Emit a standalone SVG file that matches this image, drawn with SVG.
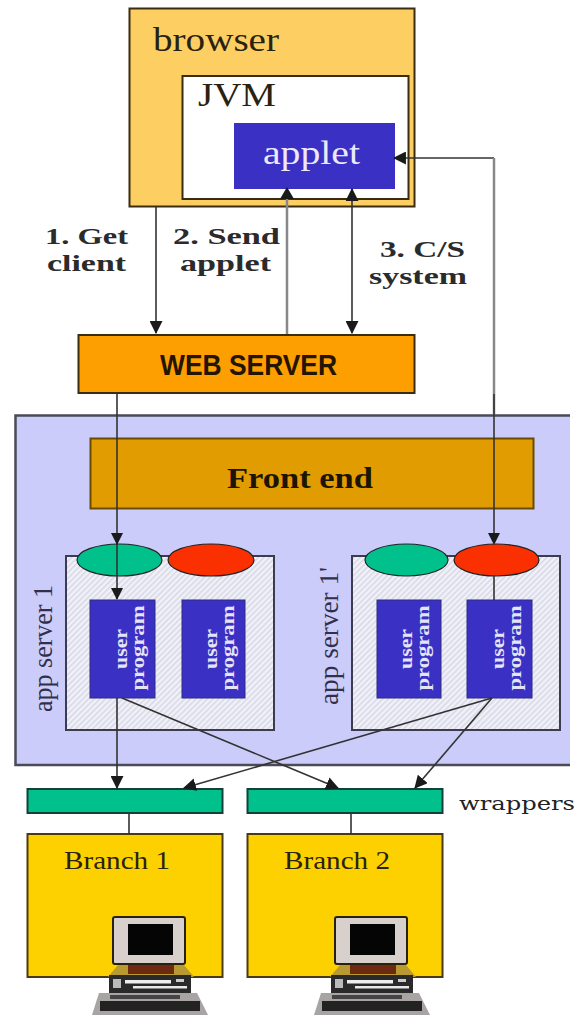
<svg xmlns="http://www.w3.org/2000/svg" width="577" height="1015" viewBox="0 0 577 1015">
<style>
.box{stroke:#3a2c10;stroke-width:2}
.t{font-family:"Liberation Serif",serif;fill:#2a2210}
.b{font-weight:bold;font-size:24px;fill:#2b2b2b}
.up{font-family:"Liberation Serif",serif;font-size:19px;font-weight:bold;fill:#e4e4f6;text-anchor:middle}
.as{font-family:"Liberation Serif",serif;font-size:27px;fill:#30304a}
.l{stroke:#333;fill:none;stroke-width:1.6}
.g{stroke:#888;fill:none;stroke-width:2.5}
.up-box{fill:#3a30c4;stroke:#2c2c80;stroke-width:1}
.srv{fill:url(#h);stroke:#3c3c50;stroke-width:2}
.el{stroke:#222;stroke-width:1.2}
.h{fill:#1a1a1a}
</style>
<defs>
<pattern id="h" width="4" height="4" patternUnits="userSpaceOnUse" patternTransform="rotate(45)"><rect width="4" height="4" fill="#f1f1fb"/><rect width="1.6" height="4" fill="#d9d9e4"/></pattern>
<marker id="a" viewBox="0 0 12 12" refX="11" refY="6" markerWidth="13" markerHeight="13" markerUnits="userSpaceOnUse" orient="auto-start-reverse"><path d="M0 0L12 6L0 12z" fill="#1a1a1a"/></marker>
<g id="pc">
<path d="M118 965L108 977H194L184 965z" fill="#b89a30"/><rect x="128" y="965" width="46" height="9" fill="#6d2a10"/>
<rect x="113" y="917" width="72" height="47" rx="2" fill="#d8d0cc" stroke="#2a2010" stroke-width="2"/>
<rect x="128" y="924" width="45" height="31" fill="#050505"/>
<rect x="109" y="975" width="82" height="18" fill="#2a2a2a"/>
<rect x="125" y="980" width="46" height="3.500" fill="#eee"/><rect x="133" y="986" width="54" height="2.500" fill="#e8e8e8"/><rect x="113" y="979" width="8" height="9" fill="#bbb"/><rect x="176" y="979" width="8" height="3" fill="#ccc"/>
<path d="M99 993H197L208 1015H92z" fill="#a8a4a4"/>
<rect x="100" y="1001" width="100" height="10" fill="#222"/><rect x="110" y="995" width="70" height="4" fill="#444"/>
</g>
</defs>
<rect width="577" height="1015" fill="#fff"/>
<g id="browser"><rect class="box" x="129.500" y="8.500" width="285" height="198" fill="#fdcf63"/><text class="t" x="153" y="51" font-size="33" textLength="126" lengthAdjust="spacingAndGlyphs">browser</text></g>
<g id="jvm"><rect class="box" x="182.500" y="76" width="226" height="123" fill="#fff"/><text class="t" x="198" y="106" font-size="33" textLength="78" lengthAdjust="spacingAndGlyphs">JVM</text></g>
<g id="applet"><rect x="234" y="123" width="161" height="66" fill="#3a30c4"/><text x="263" y="164" font-family="Liberation Serif,serif" font-size="33" fill="#ece9fa" textLength="97" lengthAdjust="spacingAndGlyphs">applet</text></g>
<g id="web-server"><rect class="box" x="78.500" y="335" width="336" height="58" fill="#fd9f00"/><text x="160" y="375" font-family="Liberation Sans,sans-serif" font-weight="bold" font-size="29" fill="#241400" textLength="177" lengthAdjust="spacingAndGlyphs">WEB SERVER</text></g>
<g id="label-1"><text class="t b" x="45" y="244" textLength="83" lengthAdjust="spacingAndGlyphs">1. Get</text><text class="t b" x="47" y="271" textLength="79" lengthAdjust="spacingAndGlyphs">client</text></g>
<g id="label-2"><text class="t b" x="173" y="244" textLength="107" lengthAdjust="spacingAndGlyphs">2. Send</text><text class="t b" x="180" y="271" textLength="91" lengthAdjust="spacingAndGlyphs">applet</text></g>
<g id="label-3"><text class="t b" x="380" y="257" textLength="85" lengthAdjust="spacingAndGlyphs">3. C/S</text><text class="t b" x="369" y="284" textLength="98" lengthAdjust="spacingAndGlyphs">system</text></g>
<g id="cloud"><path d="M570 415.500H15.500V765H570" fill="#ccccfb" stroke="#4a4a58" stroke-width="2.500"/></g>
<g id="front-end"><rect x="90.500" y="438.500" width="443" height="70" fill="#e09c00" stroke="#6a4a00" stroke-width="2"/><text x="227" y="488" font-family="Liberation Serif,serif" font-weight="bold" font-size="30" fill="#1c1404" textLength="146" lengthAdjust="spacingAndGlyphs">Front end</text></g>
<g id="app-server-1"><rect class="srv" x="66" y="556" width="208" height="174"/><text class="as" transform="translate(52 712) rotate(-90)" textLength="127" lengthAdjust="spacingAndGlyphs">app server 1</text></g>
<g id="app-server-1b"><rect class="srv" x="352" y="556" width="208" height="174"/><text class="as" transform="translate(338 705) rotate(-90)" textLength="138" lengthAdjust="spacingAndGlyphs">app server 1'</text></g>
<g id="e1"><ellipse class="el" cx="119.500" cy="560" rx="42.500" ry="16" fill="#00c08c"/></g>
<g id="e2"><ellipse class="el" cx="211" cy="560" rx="43" ry="16" fill="#fb3000"/></g>
<g id="e3"><ellipse class="el" cx="406.500" cy="560" rx="41.500" ry="16" fill="#00c08c"/></g>
<g id="e4"><ellipse class="el" cx="496.500" cy="560" rx="42.500" ry="16" fill="#fb3000"/></g>
<g id="up1"><rect class="up-box" x="90" y="600" width="65" height="98"/><text class="up" transform="translate(127 649) rotate(-90)" textLength="40" lengthAdjust="spacingAndGlyphs">user</text><text class="up" transform="translate(144 648) rotate(-90)" textLength="85" lengthAdjust="spacingAndGlyphs">program</text></g>
<g id="up2"><rect class="up-box" x="182" y="600" width="63" height="98"/><text class="up" transform="translate(217 649) rotate(-90)" textLength="40" lengthAdjust="spacingAndGlyphs">user</text><text class="up" transform="translate(234 648) rotate(-90)" textLength="85" lengthAdjust="spacingAndGlyphs">program</text></g>
<g id="up3"><rect class="up-box" x="377" y="600" width="64" height="98"/><text class="up" transform="translate(412 649) rotate(-90)" textLength="40" lengthAdjust="spacingAndGlyphs">user</text><text class="up" transform="translate(429 648) rotate(-90)" textLength="85" lengthAdjust="spacingAndGlyphs">program</text></g>
<g id="up4"><rect class="up-box" x="467" y="600" width="65" height="98"/><text class="up" transform="translate(504 649) rotate(-90)" textLength="40" lengthAdjust="spacingAndGlyphs">user</text><text class="up" transform="translate(521 648) rotate(-90)" textLength="85" lengthAdjust="spacingAndGlyphs">program</text></g>
<g id="wrapper-1"><rect x="27.500" y="789" width="195" height="24" fill="#00c08c" stroke="#14403a" stroke-width="2"/></g>
<g id="wrapper-2"><rect x="247.500" y="789" width="195" height="24" fill="#00c08c" stroke="#14403a" stroke-width="2"/></g>
<g id="wrappers-label"><text x="459" y="810" font-family="DejaVu Serif,serif" font-size="19" fill="#222" textLength="116" lengthAdjust="spacingAndGlyphs">wrappers</text></g>
<g id="branch-1"><rect x="27.500" y="834" width="195" height="143" fill="#fdd000" stroke="#4a3a10" stroke-width="2"/><text class="t" x="64" y="869" font-size="26" textLength="106" lengthAdjust="spacingAndGlyphs">Branch 1</text></g>
<g id="branch-2"><rect x="247.500" y="834" width="195" height="143" fill="#fdd000" stroke="#4a3a10" stroke-width="2"/><text class="t" x="284" y="869" font-size="26" textLength="106" lengthAdjust="spacingAndGlyphs">Branch 2</text></g>
<use href="#pc" x="0" y="0"/>
<use href="#pc" x="222" y="0"/>
<g id="connectors">
<path class="l" d="M156 207V333" marker-end="url(#a)"/>
<path class="g" d="M287 334V192"/><path class="h" d="M280 199L287 187L294 199z"/>
<path class="l" d="M352 189V333" marker-start="url(#a)" marker-end="url(#a)"/>
<path class="l" d="M494 158H394" marker-end="url(#a)"/>
<path class="g" d="M494 158V414" stroke-width="2"/>
<path class="l" d="M494 394V533" stroke="#555"/><path class="h" d="M488 533L494 545L500 533z"/>
<path class="l" d="M117 393V599"/><path class="h" d="M111 533L117 545L123 533z"/><path class="h" d="M111 588L117 600L123 588z"/>
<path class="l" d="M494 576V600"/>
<path class="l" d="M117 698V788" marker-end="url(#a)"/>
<path class="l" d="M122 698L338 788" marker-end="url(#a)"/>
<path class="l" d="M492 698L184 788" marker-end="url(#a)"/>
<path class="l" d="M492 698L415 788" marker-end="url(#a)"/>
<path class="l" d="M129 813V834M351 813V834" stroke-width="1.800"/>
</g>
</svg>
